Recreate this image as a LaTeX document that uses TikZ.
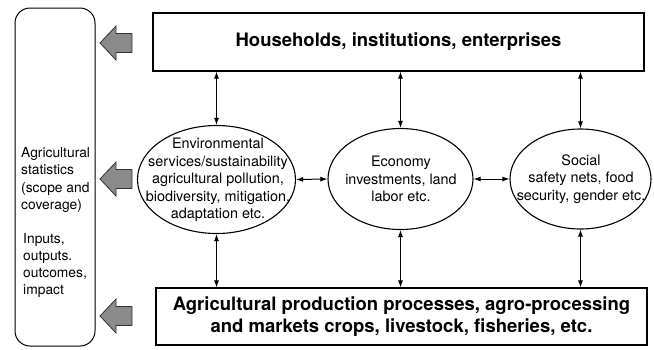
\documentclass[tikz,border=0pt]{standalone}
\usepackage{fontspec}
\setmainfont{TeX Gyre Heros}
\usetikzlibrary{arrows.meta,shapes.geometric}
\definecolor{arrowgray}{HTML}{8A8A8A}
\tikzset{
  mainbox/.style={draw, line width=1.1pt, inner sep=0pt},
  oval/.style={draw, ellipse, line width=1.1pt, inner sep=0pt},
  sidebox/.style={draw, line width=1pt, rounded corners=15pt, inner sep=0pt},
  bigtext/.style={font=\fontsize{18.5}{22}\selectfont\bfseries, align=center},
  smalltext/.style={font=\fontsize{14.4}{17.4}\selectfont, align=center},
  sidetext/.style={font=\fontsize{13.8}{17.2}\selectfont, align=left, anchor=west, inner sep=0pt},
  link/.style={line width=1pt, {Latex[length=7pt,width=5pt]}-{Latex[length=7pt,width=5pt]}},
  blockarrow/.style={draw=black!80, fill=arrowgray, line width=0.8pt, line join=miter}
}
\newcommand\barrowat[1]{\draw[blockarrow,shift={(0,#1)}] (100,0) -- (116,-17) -- (116,-9.5) -- (132,-9.5) -- (132,9.5) -- (116,9.5) -- (116,17) -- cycle;}
\begin{document}
\begin{tikzpicture}[x=1pt,y=-1pt]
\useasboundingbox (0,0) rectangle (654,349);
% side box
\node[sidebox, minimum width=80pt, minimum height=338pt] (side) at (55,177) {};
\node[sidetext] (st1) at (21,180) {Agricultural\\statistics\\(scope and\\coverage)};
\node[sidetext] (st2) at (23,265.5) {Inputs,\\outputs.\\outcomes,\\impact};
% main boxes
\node[mainbox, minimum width=491pt, minimum height=58pt] (top) at (398.5,42) {};
\node[bigtext] (toptext) at (top.center) {Households, institutions, enterprises};
\node[mainbox, minimum width=491pt, minimum height=57pt] (bot) at (401.5,316.5) {};
\node[bigtext] (bottext) at (bot.center) {Agricultural production processes, agro-processing\\and markets crops, livestock, fisheries, etc.};
% ellipses
\node[oval, minimum width=158pt, minimum height=108pt] (e1) at (216.5,179.5) {};
\node[smalltext] (e1t) at (218,180) {Environmental\\services/sustainability\\agricultural pollution,\\biodiversity, mitigation,\\adaptation etc.};
\node[oval, minimum width=145pt, minimum height=101pt] (e2) at (400.5,179) {};
\node[smalltext] (e2t) at (401,179) {Economy\\investments, land\\labor etc.};
\node[oval, minimum width=141pt, minimum height=100pt] (e3) at (580.5,179) {};
\node[smalltext] (e3t) at (581,179) {Social\\safety nets, food\\security, gender etc.};
% connectors
\foreach \e in {e1,e2,e3}{
  \draw[link] (top.south -| \e.north) -- (\e.north);
  \draw[link] (\e.south) -- (bot.north -| \e.south);
}
\draw[link] (e1.east) -- (e2.west);
\draw[link] (e2.east) -- (e3.west);
% block arrows
\barrowat{43}
\barrowat{179}
\barrowat{316}
\end{tikzpicture}
\end{document}
